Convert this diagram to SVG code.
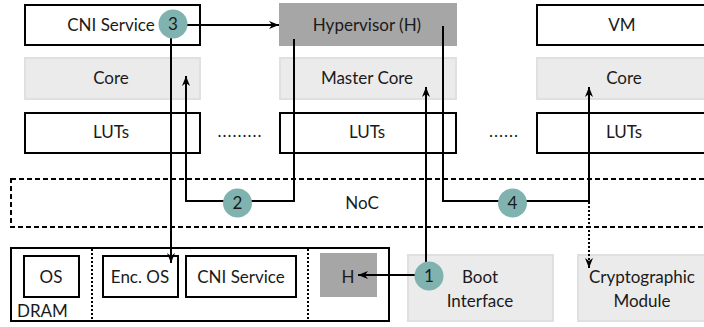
<svg xmlns="http://www.w3.org/2000/svg" width="704" height="327" viewBox="0 0 704 327">
<style>
text{font-family:Lato,"DejaVu Sans",sans-serif;font-size:17px;fill:#1a1a1a;text-anchor:middle}
.w{fill:#fff;stroke:#000;stroke-width:2}
.l{fill:#ebebeb;stroke:#e0e0e0;stroke-width:2}
.d{fill:#a6a6a6;stroke:none}
.c{fill:#80b3af;stroke:none}
.ln{fill:none;stroke:#000;stroke-width:2}
.dot{fill:none;stroke:#000;stroke-width:2;stroke-dasharray:2,2}
.dash{fill:none;stroke:#000;stroke-width:2;stroke-dasharray:5,3}
</style>
<defs>
<marker id="ah" viewBox="0 0 10 8" refX="10" refY="4" markerWidth="10" markerHeight="8" markerUnits="userSpaceOnUse" orient="auto">
<path d="M0,0 L10,4 L0,8 L3,4 z" fill="#000"/>
</marker>
</defs>
<rect width="704" height="327" fill="#fff"/>

<g id="noc">
<rect class="dash" x="11" y="179" width="710" height="48"/>
<text x="362" y="209">NoC</text>
</g>

<g id="cni-service-top"><rect class="w" x="25" y="5" width="175" height="40"/><text x="111" y="31">CNI Service</text></g>
<g id="hypervisor"><rect class="d" x="279" y="3" width="178" height="43"/><text x="367" y="31">Hypervisor (H)</text></g>
<g id="vm"><rect class="w" x="537" y="5" width="176" height="40"/><text x="622" y="31">VM</text></g>

<g id="core1"><rect class="l" x="25" y="58" width="175" height="41"/><text x="111" y="84">Core</text></g>
<g id="master-core"><rect class="l" x="280" y="58" width="176" height="41"/><text x="367" y="84">Master Core</text></g>
<g id="core3"><rect class="l" x="537" y="58" width="176" height="41"/><text x="624" y="84">Core</text></g>

<g id="luts1"><rect class="w" x="25" y="113" width="175" height="40"/><text x="111" y="138">LUTs</text></g>
<g id="luts2"><rect class="w" x="280" y="113" width="176" height="40"/><text x="367" y="138">LUTs</text></g>
<g id="luts3"><rect class="w" x="537" y="113" width="176" height="40"/><text x="624" y="138">LUTs</text></g>
<g id="dots"><text x="240" y="137" style="letter-spacing:1px">.........</text><text x="504" y="137" style="letter-spacing:1px">......</text></g>

<g id="dram">
<rect class="w" x="11" y="248" width="378" height="73"/>
<line class="dot" x1="92" y1="249" x2="92" y2="320"/>
<line class="dot" x1="308" y1="249" x2="308" y2="320"/>
<text x="17" y="317" style="text-anchor:start">DRAM</text>
</g>
<g id="os"><rect class="w" x="24" y="256" width="55" height="41"/><text x="51" y="283">OS</text></g>
<g id="enc-os"><rect class="w" x="103" y="256" width="75" height="41"/><text x="140" y="283">Enc. OS</text></g>
<g id="cni-service-dram"><rect class="w" x="186" y="256" width="110" height="41"/><text x="241" y="283">CNI Service</text></g>
<g id="h"><rect class="d" x="320" y="253" width="57" height="44"/><text x="348" y="283">H</text></g>

<g id="boot-interface"><rect class="l" x="408" y="255" width="145" height="66"/><text x="480" y="283">Boot</text><text x="480" y="307">Interface</text></g>
<g id="crypto"><rect class="l" x="578" y="255" width="140" height="66"/><text x="642" y="283">Cryptographic</text><text x="642" y="307">Module</text></g>

<g id="connectors">
<path class="ln" d="M294,39 V201 H186 V76" marker-end="url(#ah)"/>
<path class="ln" d="M443,26 V201 H589 V87" marker-end="url(#ah)"/>
<path class="dot" d="M589,202 V268" marker-end="url(#ah)"/>
<path class="ln" d="M426,270 V87" marker-end="url(#ah)"/>
<path class="ln" d="M420,275 H358" marker-end="url(#ah)"/>
<path class="ln" d="M185,25 H279" marker-end="url(#ah)"/>
<path class="ln" d="M171,30 V263" marker-end="url(#ah)"/>
</g>

<g id="badge1"><circle class="c" cx="429" cy="276" r="14.5"/><text x="429" y="282">1</text></g>
<g id="badge2"><circle class="c" cx="237.5" cy="203" r="14.5"/><text x="237.5" y="209">2</text></g>
<g id="badge3"><circle class="c" cx="173" cy="24" r="14.5"/><text x="173" y="30">3</text></g>
<g id="badge4"><circle class="c" cx="512.5" cy="203" r="14.5"/><text x="512.5" y="209">4</text></g>
</svg>
